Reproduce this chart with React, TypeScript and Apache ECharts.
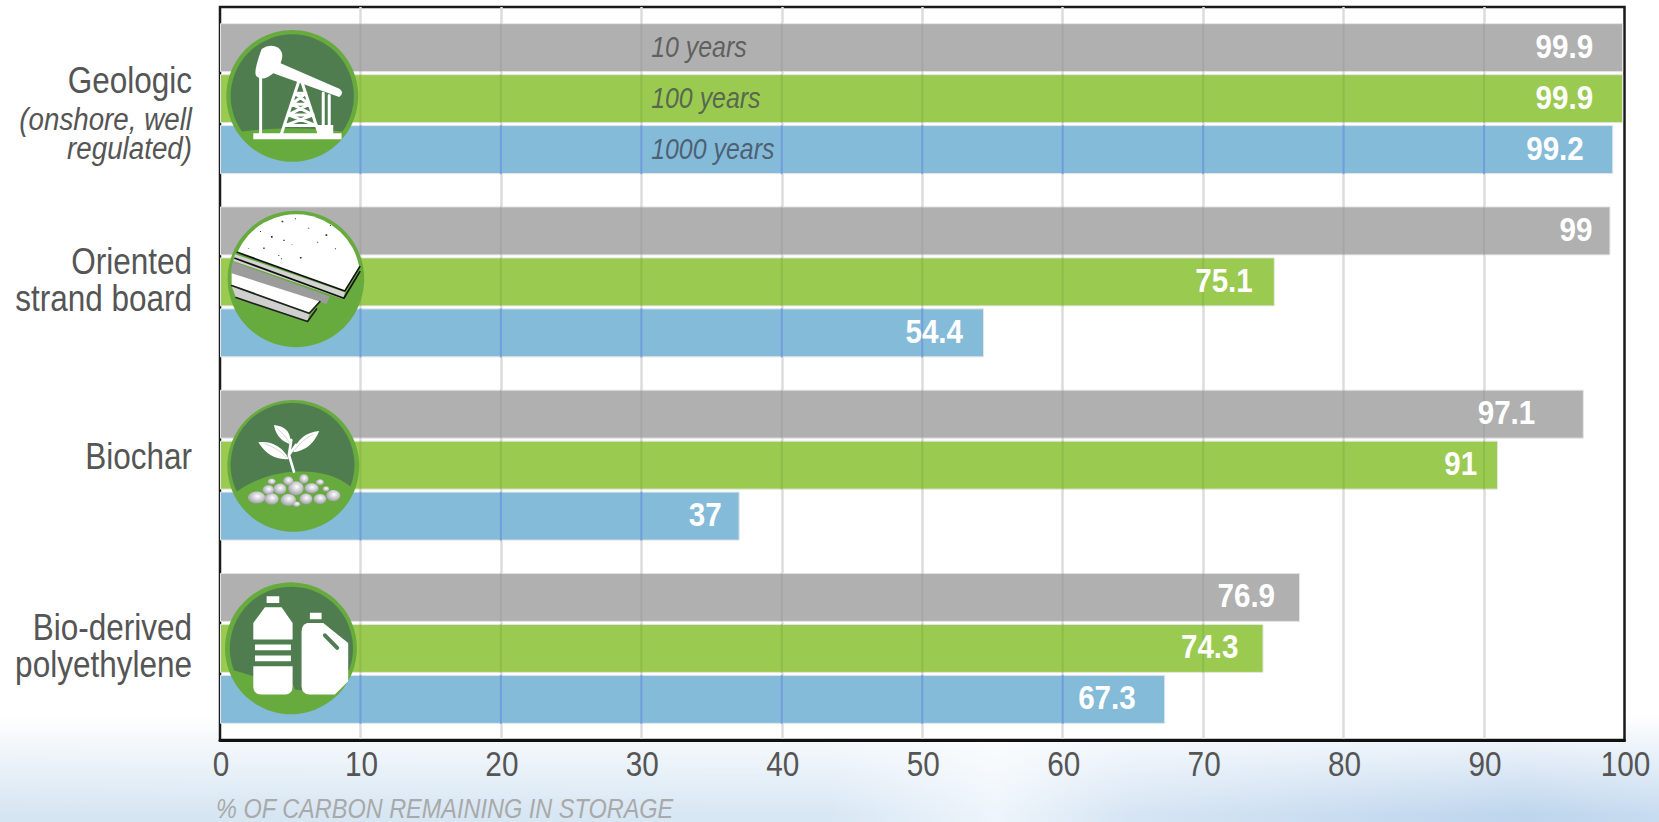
import React, { useEffect, useRef } from "react";
import * as echarts from "echarts";

// Carbon retained in storage after three time horizons, per storage pathway.
const categories = ["Geologic", "Oriented\nstrand board", "Biochar", "Bio-derived\npolyethylene"];
const horizons = ["10 years", "100 years", "1000 years"];
const tenYears = [99.9, 99, 97.1, 76.9];
const hundredYears = [99.9, 75.1, 91, 74.3];
const thousandYears = [99.2, 54.4, 37, 67.3];
const xTicks = [10, 20, 30, 40, 50, 60, 70, 80, 90];
const axisTitle = "% OF CARBON REMAINING IN STORAGE";

// Space between a value label and the end of its bar, per horizon.
const tenYearGaps = [30, 18, 48.5, 25];
const hundredYearGaps = [30, 22, 21, 25];
const thousandYearGaps = [29.5, 21, 18, 29.5];

const SANS = '"Liberation Sans", sans-serif';
const BAR_WIDTH = 49;
const BAR_STEP = 51;
const DARK = "#507d4f";
const GREEN = "#67ab3f";
const Z = 60;

// The chart's type is a condensed sans: each size is narrowed by its own factor.
const condense: Record<number, number> = { 27: 0.87, 30: 0.83, 31: 0.895, 34: 0.87, 35: 0.85, 36: 0.875 };

const shapes: Record<string, string> = {
  pumpSolid:
    "M125 72Q150 55 175 68Q195 85 182 115L360 192Q374 205 358 216L160 145Q130 170 110 155Q98 145 125 72ZM100 325H365V343H100ZM292 300H340V325H292Z",
  pumpLines:
    "M122 155V325M237 168L185 325M245 168L297 325M225 205H258M215 238H268M205 270H280M195 302H290M225 205L268 238M258 205L215 238M215 238L280 270M268 238L205 270M205 270L290 302M280 270L195 302M310 205V310M328 212V310",
  hillPump: "M66 320A185 185 0 1 1 368 320Q217 300 66 320Z",
  boardTop: "M52 142A193 193 0 0 1 418 185L375 258Z",
  boardTopEdge: "M52 142L375 258L420 185M45 160L372 280L420 200",
  boardBand: "M45 148L375 262L370 282L40 168Z",
  boardStrip: "M38 170L330 275L320 297L32 205Z",
  boardLow: "M35 205L300 290L268 325L35 240Z",
  boardLowBand: "M35 244L268 328L263 348L48 278Z",
  boardLowEdge: "M35 242L268 325L300 290M48 278L263 350L290 312",
  speckles:
    "M185 47h5v5h-5zM153 93h5v5h-5zM190 104h4v4h-4zM317 88h5v5h-5zM240 156h5v5h-5zM175 150h3v3h-3zM130 128h4v4h-4zM265 68h3v3h-3zM345 130h3v3h-3zM120 78h3v3h-3zM225 40h3v3h-3zM292 110h3v3h-3zM215 118h2v2h-2zM330 60h3v3h-3zM183 160h3v3h-3zM85 130h2v2h-2z",
  hillChar: "M50 290A186 186 0 1 1 392 275Q330 225 230 230Q130 235 50 290Z",
  leaves:
    "M115 142Q175 135 207 192Q150 198 115 142ZM162 90Q215 95 212 148Q170 135 162 90ZM298 108Q235 115 220 172Q275 165 298 108Z",
  stem: "M222 230L207 180L214 135M207 180L228 150",
  veins: "M135 146Q175 160 200 188M172 100Q195 120 208 142M280 118Q245 135 225 165",
  hillPlastic: "M42 278A185 185 0 1 1 388 275L320 345L225 335Q215 290 100 295Q70 285 42 278Z",
  bottle:
    "M140 55H178V75H140ZM135 88H185L218 135V185H100V135ZM105 200H213V217H105ZM105 233H213V250H105ZM100 265H218V325Q218 350 195 350H125Q100 350 100 325ZM270 104H305V124H270Z",
  jug: "M262 135H310L385 195V310L345 350H270Q245 350 245 325V160Q245 140 262 135Z",
  handle: "M315 172L352 210",
};
Object.entries(shapes).forEach(([name, d]) => {
  echarts.graphic.registerShape(name, echarts.graphic.extendPath(d, {}));
});

// Pebble heap under the seedling: centre x, centre y, radius x, radius y.
const pebbles = [
  [110, 308, 26, 18], [155, 312, 21, 17], [205, 315, 23, 18], [258, 312, 19, 16],
  [300, 312, 19, 15], [340, 302, 21, 17], [145, 285, 17, 14], [180, 282, 19, 16],
  [228, 280, 23, 21], [275, 280, 21, 15], [205, 258, 15, 13], [252, 252, 14, 14],
  [300, 262, 12, 9], [155, 260, 12, 9], [318, 282, 10, 8], [230, 328, 11, 8],
];

const fillShape = (type: string, fill: string) => ({ type, z: Z, style: { fill } });
const strokeShape = (type: string, stroke: string, lineWidth: number) => ({
  type,
  z: Z,
  style: { fill: "none", stroke, lineWidth, lineCap: "round", lineJoin: "round" },
});
const badge = (cx: number, cy: number, r: number) => ({
  type: "circle",
  z: Z,
  shape: { cx, cy, r },
  style: { fill: GREEN },
});
const icon = (x: number, y: number, children: object[]) => ({
  type: "group",
  x,
  y,
  scaleX: 1 / 3,
  scaleY: 1 / 3,
  children,
});

const iconGraphics = [
  icon(220, 25, [
    badge(217, 213, 198),
    fillShape("hillPump", DARK),
    strokeShape("pumpLines", "#fff", 9),
    fillShape("pumpSolid", "#fff"),
  ]),
  icon(220, 205, [
    badge(228, 222, 205),
    fillShape("boardTop", "#fff"),
    fillShape("speckles", "#26303a"),
    fillShape("boardBand", "#d4d4d4"),
    fillShape("boardStrip", "#9c9c9c"),
    fillShape("boardLow", "#fff"),
    fillShape("boardLowBand", "#cfcfcf"),
    strokeShape("boardTopEdge", "#111", 5),
    strokeShape("boardLowEdge", "#222", 5),
  ]),
  icon(220, 395, [
    badge(220, 213, 198),
    fillShape("hillChar", DARK),
    strokeShape("stem", "#fff", 8),
    fillShape("leaves", "#fff"),
    strokeShape("veins", "#b9c6b5", 2),
    ...pebbles.map(([cx, cy, rx, ry]) => ({
      type: "ellipse",
      z: Z,
      shape: { cx, cy, rx, ry },
      style: {
        fill: {
          type: "radial",
          x: 0.55,
          y: 0.4,
          r: 0.7,
          colorStops: [
            { offset: 0, color: "#ffffff" },
            { offset: 0.5, color: "#c8c8ce" },
            { offset: 1, color: "#8f8f98" },
          ],
        },
      },
    })),
  ]),
  icon(220, 578, [
    badge(213, 211, 198),
    fillShape("hillPlastic", DARK),
    fillShape("bottle", "#fff"),
    fillShape("jug", "#fff"),
    strokeShape("handle", DARK, 12),
  ]),
];

const barSeries = (name: string, data: number[], gaps: number[], color: string) => ({
  type: "bar",
  name,
  data: data.map((value, i) => ({ value, label: { distance: gaps[i] } })),
  barWidth: BAR_WIDTH,
  barGap: "4.08%",
  z: 2,
  itemStyle: { color, borderColor: "#e6e6e6", borderWidth: 1 },
  label: {
    show: true,
    position: "insideRight",
    offset: [0, -2],
    color: "#fff",
    fontFamily: SANS,
    fontSize: 34,
    fontWeight: "bold",
  },
});

// Gridlines showing through a bar, plus the horizon caption on the first group.
const throughLines = (name: string, data: number[], slot: number, stroke: string, caption: string) => ({
  type: "custom",
  name: `${name} grid`,
  coordinateSystem: "cartesian2d",
  encode: { x: 1, y: 0 },
  data: data.map((v, i) => [i, v]),
  z: 2,
  silent: true,
  clip: false,
  renderItem: (_: unknown, api: any) => {
    const cat = api.value(0);
    const value = api.value(1);
    const offset = slot * BAR_STEP;
    const cy = api.coord([0, cat])[1] + offset;
    const children: object[] = xTicks
      .filter((t) => t < value)
      .map((t) => {
        const x = api.coord([t, cat])[0];
        return {
          type: "line",
          z2: 1,
          shape: { x1: x, y1: cy - BAR_WIDTH / 2, x2: x, y2: cy + BAR_WIDTH / 2 },
          style: { stroke, lineWidth: 2 },
        };
      });
    if (cat === 0) {
      children.push({
        type: "text",
        z2: 1,
        style: {
          text: name,
          x: api.coord([30.7, cat])[0],
          y: cy - 1.5,
          textAlign: "left",
          verticalAlign: "middle",
          fontFamily: SANS,
          fontStyle: "italic",
          fontSize: 30,
          fill: caption,
        },
      });
    }
    return { type: "group", children };
  },
});

export default function App() {
  const ref = useRef<HTMLDivElement>(null);

  useEffect(() => {
    if (!ref.current) return;
    const chart = echarts.init(ref.current, undefined, { renderer: "svg" });
    chart.setOption({
      animation: false,
      backgroundColor: "transparent",
      title: {
        text: axisTitle,
        left: 216,
        top: 795,
        padding: 0,
        textStyle: {
          fontFamily: SANS,
          fontStyle: "italic",
          fontWeight: "normal",
          fontSize: 27,
          color: "#a9a9a9",
        },
      },
      grid: {
        show: true,
        left: 220,
        top: 7,
        width: 1404.5,
        height: 733,
        outerBoundsMode: "none",
        backgroundColor: "#fff",
        borderColor: "#1a1a1a",
        borderWidth: 2.5,
      },
      xAxis: {
        type: "value",
        min: 0,
        max: 100,
        interval: 10,
        axisLine: { show: true, lineStyle: { color: "#111", width: 3 } },
        axisTick: { show: false },
        splitLine: { show: true, showMinLine: false, showMaxLine: false, lineStyle: { color: "#dcdcdc", width: 2.5 } },
        axisLabel: {
          margin: 6,
          color: "#555",
          fontFamily: SANS,
          fontSize: 35,
          padding: [0, 0, 0, 2],
        },
      },
      yAxis: {
        type: "category",
        inverse: true,
        data: categories,
        axisLine: { show: false },
        axisTick: { show: false },
        axisLabel: {
          margin: 28,
          interval: 0,
          align: "right",
          formatter: (v: string) => {
            if (v === "Geologic") {
              return `{lead|${v}}\n{note|(onshore, well}\n{note|regulated)}`;
            }
            if (v === "Biochar") return `{single|${v}}`;
            return v
              .split("\n")
              .map((line) => `{name|${line}}`)
              .join("\n");
          },
          rich: {
            lead: { fontFamily: SANS, fontSize: 36, color: "#555", lineHeight: 71, align: "right", padding: [22, 0, 0, 0] },
            note: { fontFamily: SANS, fontStyle: "italic", fontSize: 31, color: "#555", lineHeight: 29, align: "right" },
            name: { fontFamily: SANS, fontSize: 36, color: "#555", lineHeight: 37, align: "right", padding: [0, 0, 4, 0] },
            single: { fontFamily: SANS, fontSize: 36, color: "#555", lineHeight: 37, align: "right", padding: [0, 0, 18, 0] },
          },
        },
      },
      series: [
        barSeries(horizons[0], tenYears, tenYearGaps, "#b0b0b0"),
        barSeries(horizons[1], hundredYears, hundredYearGaps, "#9aca4f"),
        barSeries(horizons[2], thousandYears, thousandYearGaps, "#84bbd9"),
        throughLines(horizons[0], tenYears, -1, "rgba(150,150,150,0.35)", "rgba(85,85,85,0.9)"),
        throughLines(horizons[1], hundredYears, 0, "rgba(130,175,70,0.5)", "rgba(80,90,80,0.9)"),
        throughLines(horizons[2], thousandYears, 1, "rgba(110,150,220,0.85)", "rgba(75,90,110,0.95)"),
      ],
      graphic: iconGraphics,
    });
    ref.current.querySelectorAll<SVGTextElement>("svg text").forEach((el) => {
      const size = Math.round(parseFloat(getComputedStyle(el).fontSize));
      const factor = condense[size];
      if (!factor) return;
      el.setAttribute("textLength", String(el.getComputedTextLength() * factor));
      el.setAttribute("lengthAdjust", "spacingAndGlyphs");
    });
    return () => chart.dispose();
  }, []);

  return (
    <div
      style={{
        position: "absolute",
        left: 0,
        top: 0,
        width: 1659,
        height: 822,
        overflow: "hidden",
        background:
          "linear-gradient(to bottom, #fff 0, #fff 715px, rgba(255,255,255,0) 815px), linear-gradient(to right, #d6e5f2 0, #d8e7f4 50%, #eef5fb 60%, #d6e5f4 68%, #bed5ed 92%, #c8dcf0 100%)",
      }}
    >
      <div ref={ref} style={{ width: 1659, height: 822 }} />
    </div>
  );
}
